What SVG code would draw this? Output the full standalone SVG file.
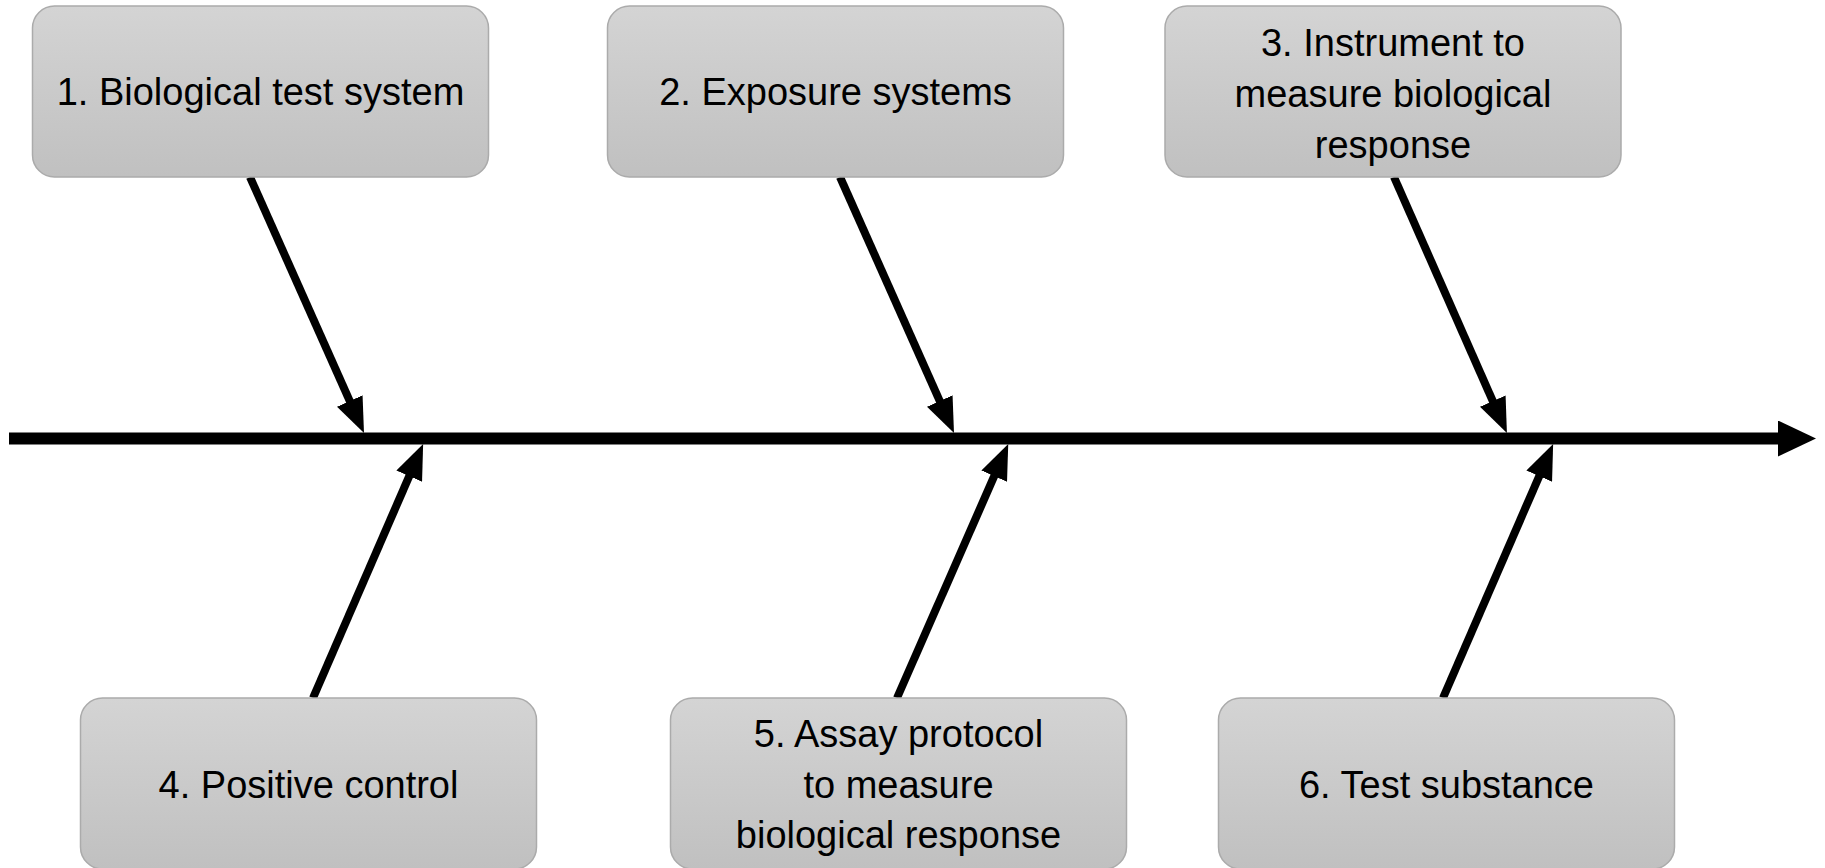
<svg xmlns="http://www.w3.org/2000/svg" width="1825" height="868" viewBox="0 0 1825 868">
<style>
.box{fill:url(#g);stroke:#ababab;stroke-width:1.5}
.t{font-family:"Liberation Sans",Arial,sans-serif;font-size:38px;fill:#000;text-anchor:middle}
.c{stroke:#000;stroke-width:8;fill:none;marker-end:url(#ah)}
.spine{stroke:#000;stroke-width:12;fill:none;marker-end:url(#sh)}
</style>
<defs>
<linearGradient id="g" x1="0" y1="0" x2="0" y2="1">
<stop offset="0" stop-color="#d4d4d4"/>
<stop offset="1" stop-color="#c0c0c0"/>
</linearGradient>
<marker id="ah" markerUnits="userSpaceOnUse" markerWidth="36" markerHeight="28" refX="5" refY="14" orient="auto" viewBox="0 0 36 28">
<path d="M0,0 L35,14 L0,28 z" fill="#000"/>
</marker>
<marker id="sh" markerUnits="userSpaceOnUse" markerWidth="39" markerHeight="36" refX="4" refY="18" orient="auto" viewBox="0 0 39 36">
<path d="M0,0 L38,18 L0,36 z" fill="#000"/>
</marker>
</defs>
<rect width="1825" height="868" fill="#fff"/>
<g id="connectors">
<line class="spine" x1="9" y1="438.5" x2="1782" y2="438.5"/>
<line class="c" x1="250" y1="177" x2="351.8" y2="405.6"/>
<line class="c" x1="840" y1="177" x2="941.8" y2="405.6"/>
<line class="c" x1="1394" y1="177" x2="1494.8" y2="405.6"/>
<line class="c" x1="313" y1="698" x2="411.2" y2="471.6"/>
<line class="c" x1="897" y1="698" x2="996.2" y2="471.6"/>
<line class="c" x1="1443" y1="698" x2="1541.2" y2="471.6"/>
</g>
<g id="n1"><rect class="box" x="32.5" y="6" width="456" height="171" rx="22"/><text class="t" x="260.5" y="105">1. Biological test system</text></g>
<g id="n2"><rect class="box" x="607.5" y="6" width="456" height="171" rx="22"/><text class="t" x="835.5" y="105">2. Exposure systems</text></g>
<g id="n3"><rect class="box" x="1165" y="6" width="456" height="171" rx="22"/><text class="t" x="1393" y="56">3. Instrument to</text><text class="t" x="1393" y="107">measure biological</text><text class="t" x="1393" y="158">response</text></g>
<g id="n4"><rect class="box" x="80.5" y="698" width="456" height="171" rx="22"/><text class="t" x="308.5" y="798">4. Positive control</text></g>
<g id="n5"><rect class="box" x="670.5" y="698" width="456" height="171" rx="22"/><text class="t" x="898.5" y="747">5. Assay protocol</text><text class="t" x="898.5" y="798">to measure</text><text class="t" x="898.5" y="848">biological response</text></g>
<g id="n6"><rect class="box" x="1218.5" y="698" width="456" height="171" rx="22"/><text class="t" x="1446.5" y="798">6. Test substance</text></g>
</svg>
